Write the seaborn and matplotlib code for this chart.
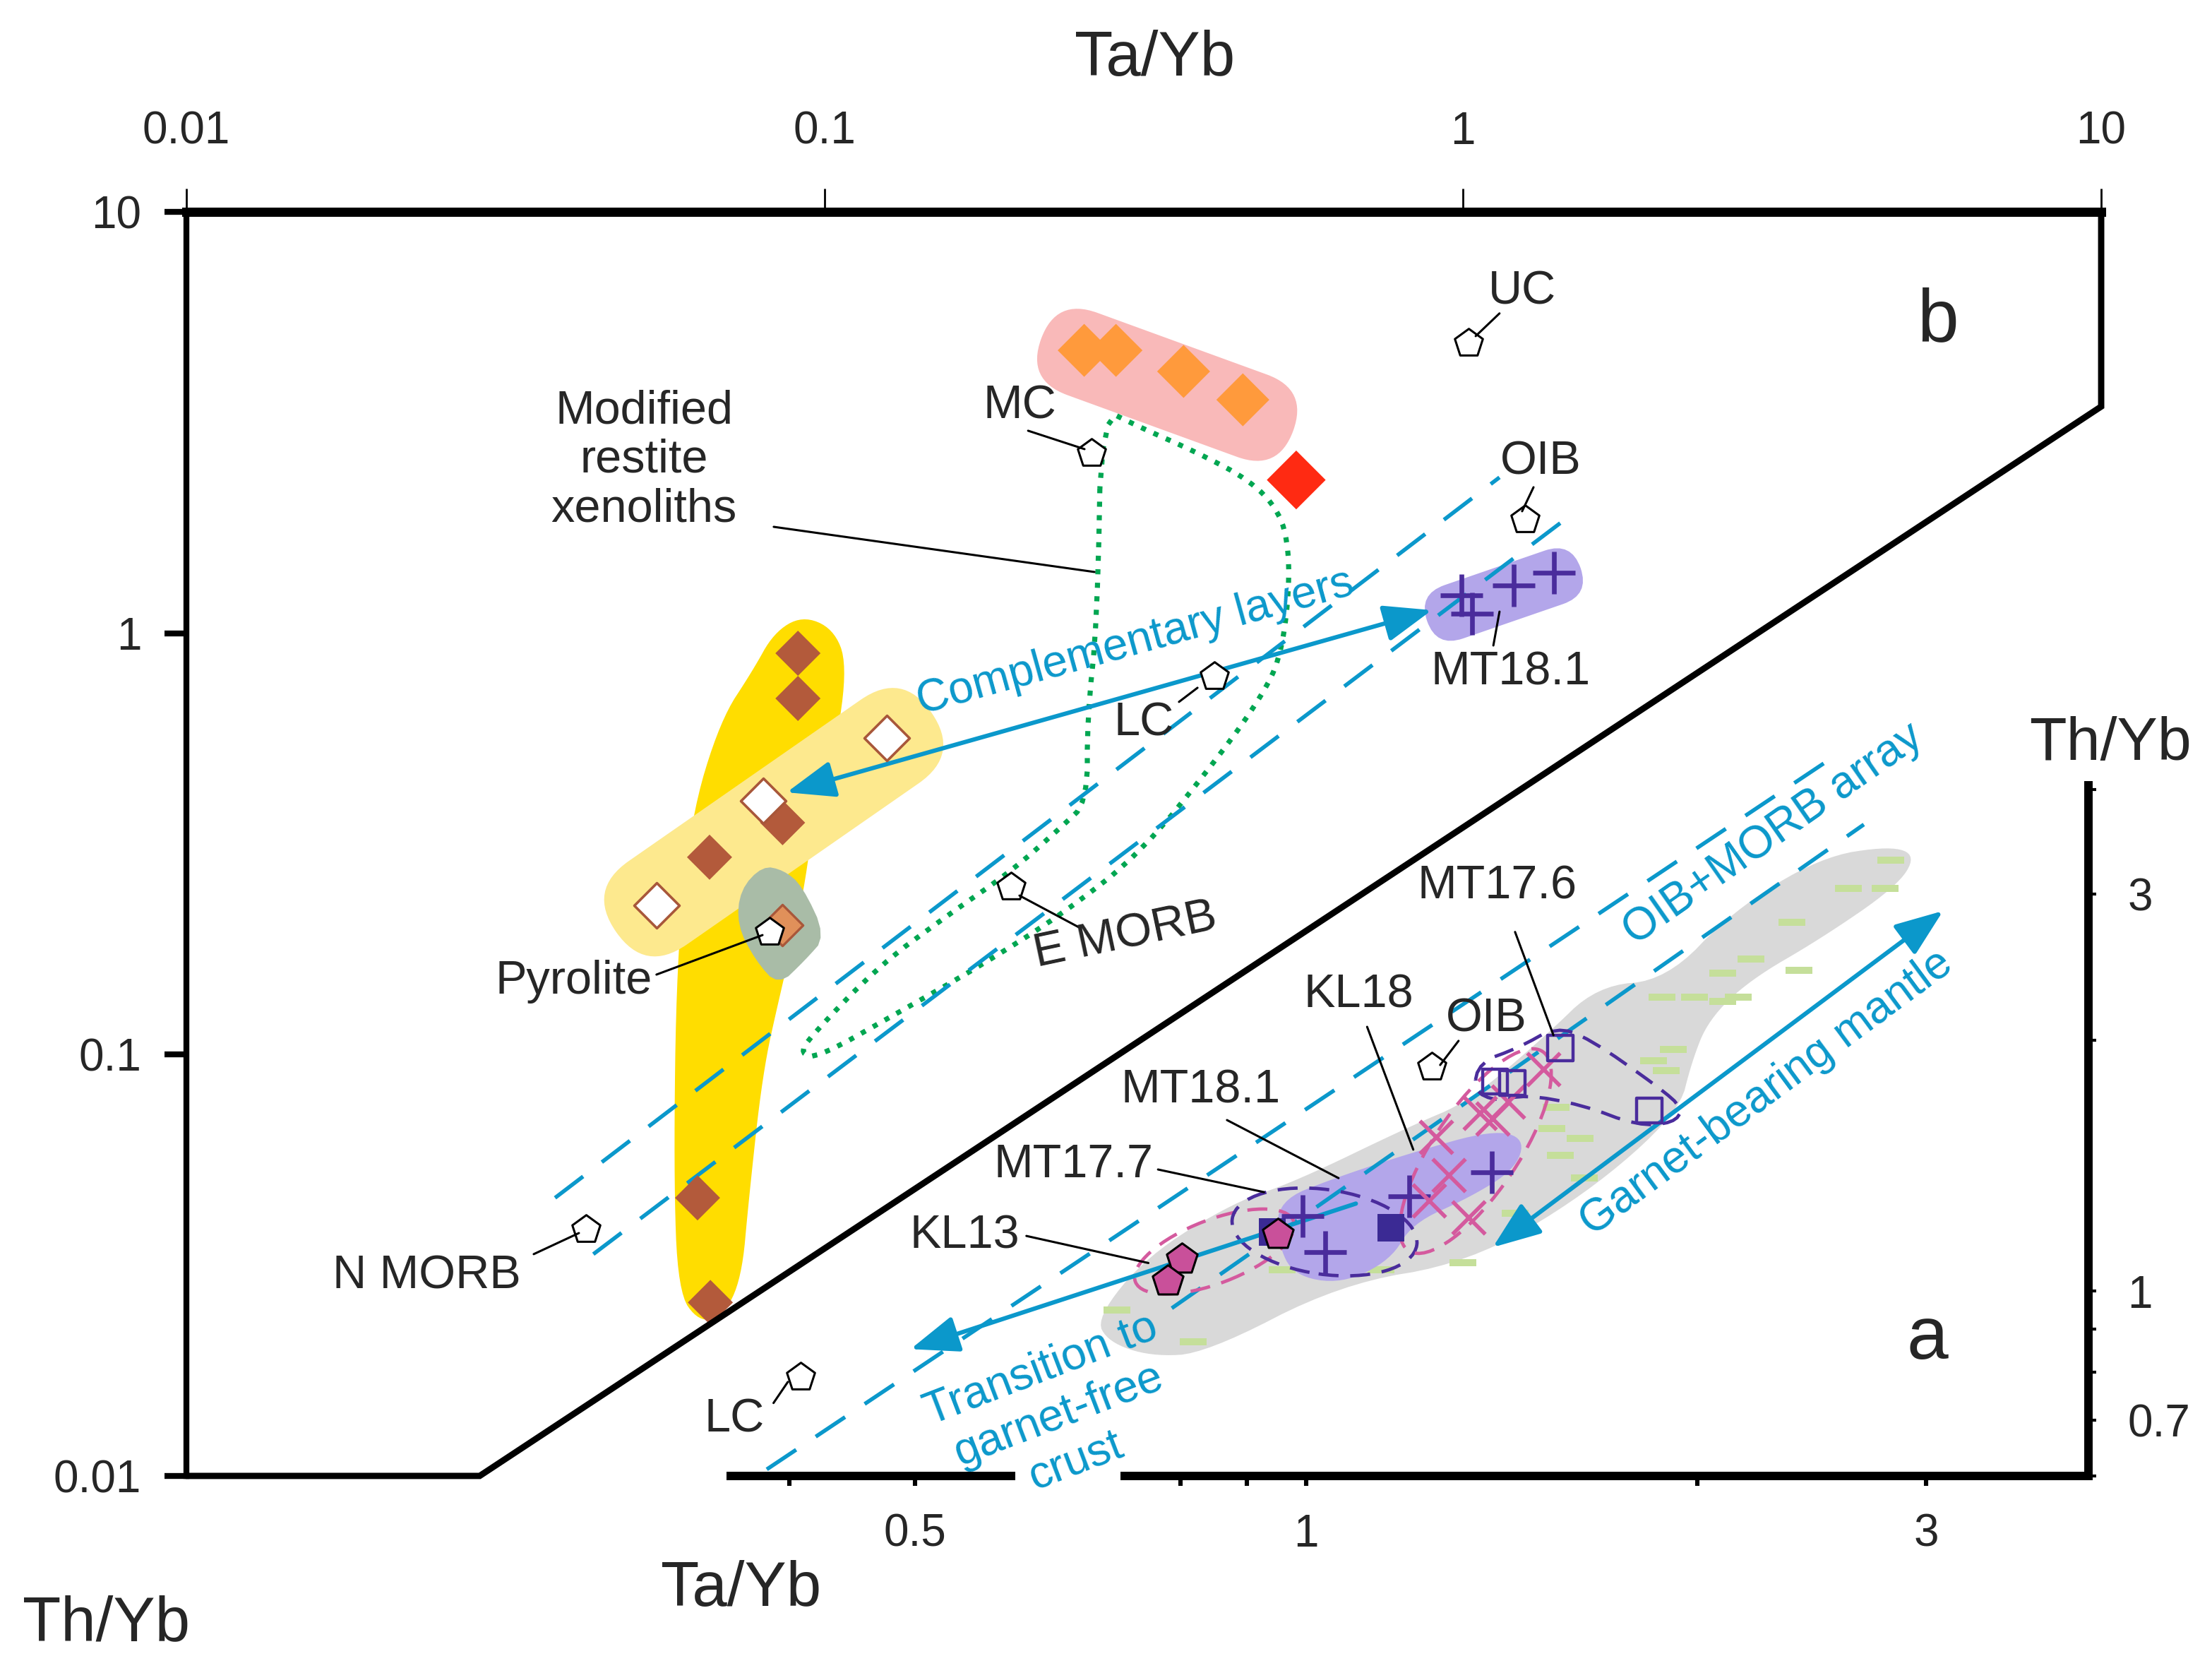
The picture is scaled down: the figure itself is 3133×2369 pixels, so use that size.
import numpy as np
import matplotlib
matplotlib.use('Agg')
import matplotlib.pyplot as plt
import seaborn as sns
from matplotlib.patches import FancyBboxPatch, Ellipse
from matplotlib.transforms import Affine2D, ScaledTranslation
from matplotlib.ticker import FixedLocator, FixedFormatter, NullLocator

sns.set_theme(style='white')
plt.rcParams['font.family'] = ['Liberation Sans', 'DejaVu Sans']

BLUE = '#0b98cb'
PURPLE = '#4a2c9c'
MAGENTA = '#d45a9e'

# ---------------- panel b data (Ta/Yb, Th/Yb) ----------------
ref_names = ['UC', 'MC', 'OIB', 'LC', 'E MORB', 'Pyrolite', 'N MORB']
ref_ta = [1.02, 0.262, 1.25, 0.408, 0.196, 0.082, 0.0423]
ref_th = [4.87, 2.67, 1.86, 0.789, 0.250, 0.195, 0.0385]

mc_ta = [0.255, 0.286, 0.365, 0.452]          # orange diamonds
mc_th = [4.69, 4.69, 4.18, 3.58]
red_ta = [0.548]
red_th = [2.31]
brown_ta = [0.0908, 0.0908, 0.0859, 0.066, 0.0632, 0.0662]
brown_th = [0.896, 0.700, 0.355, 0.294, 0.0457, 0.0258]
white_ta = [0.125, 0.0802, 0.0545]
white_th = [0.565, 0.40, 0.226]
pyro_ta = [0.0859]
pyro_th = [0.203]

# MT18.1 crosses (shown in both panels)
mt181_ta = [0.994, 1.034, 1.20, 1.39]
mt181_th = [1.23, 1.114, 1.30, 1.39]

# yellow band outline
band_ta = [0.0922, 0.1031, 0.1085, 0.1041, 0.0970, 0.0931, 0.0850, 0.0799, 0.0760, 0.0741,
           0.0693, 0.0635, 0.0589, 0.0580, 0.0586, 0.0616, 0.0686, 0.0771, 0.0832]
band_th = [1.100, 1.026, 0.846, 0.532, 0.422, 0.246, 0.1378, 0.0902, 0.0450, 0.0294,
           0.0239, 0.0232, 0.0273, 0.0525, 0.1672, 0.362, 0.621, 0.814, 1.002]
# grey-green field round pyrolite
kite_ta = [0.0799, 0.0862, 0.0922, 0.1005, 0.0931, 0.0846, 0.0779, 0.0729, 0.0737]
kite_th = [0.2805, 0.274, 0.2518, 0.1906, 0.1672, 0.1455, 0.1672, 0.2028, 0.246]
# modified restite xenoliths (green dotted)
restite_ta = [0.2714, 0.2673, 0.2579, 0.2579, 0.2342, 0.1959, 0.1558, 0.1214, 0.0945, 0.0917,
              0.0975, 0.1303, 0.175, 0.2342, 0.3131, 0.4206, 0.4851, 0.5158, 0.5318, 0.5345,
              0.5158, 0.4634, 0.3819, 0.3099]
restite_th = [3.420, 1.066, 0.631, 0.397, 0.3454, 0.272, 0.214, 0.1621, 0.1094, 0.1005,
              0.0982, 0.1257, 0.1621, 0.214, 0.3006, 0.524, 0.714, 0.866, 1.152, 1.568,
              1.947, 2.307, 2.692, 3.094]
# MORB-OIB array bounds in panel b
arr_b_up_ta = [0.0378, 1.141]
arr_b_up_th = [0.0457, 2.343]
arr_b_lo_ta = [0.0434, 1.443]
arr_b_lo_th = [0.0336, 1.858]
comp_ta = [0.0872, 0.894]
comp_th = [0.419, 1.134]
# panel b frame
frame_ta = [0.01, 0.0288, 10, 10]
frame_th = [0.01, 0.01, 3.45, 10]

b_labels = ['UC', 'MC', 'OIB', 'LC', 'E MORB', 'Pyrolite', 'N MORB', 'Modified\nrestite\nxenoliths', 'MT18.1']
b_lab_ta = [1.238, 0.2019, 1.323, 0.316, 0.296, 0.0404, 0.0238, 0.0521, 1.189]
b_lab_th = [6.44, 3.446, 2.55, 0.611, 0.1907, 0.149, 0.0297, 2.57, 0.807]
b_lab_rot = [0, 0, 0, 0, 12, 0, 0, 0, 0]
b_lead_ta = [(1.047, 1.141), (0.2083, 0.2553), (1.238, 1.290), (0.3838, 0.359), (0.2019, 0.2512),
             (0.0545, 0.0799), (0.035, 0.0412), (0.0832, 0.2647), (1.141, 1.116)]
b_lead_th = [(5.07, 5.74), (3.023, 2.734), (1.947, 2.22), (0.742, 0.687), (0.2384, 0.1998),
             (0.1548, 0.1921), (0.0336, 0.0377), (1.788, 1.397), (1.125, 0.935)]

# ---------------- panel a data ----------------
kl13_ta = [0.802, 0.782, 0.951]
kl13_th = [1.092, 1.028, 1.169]
mt177_ta = [0.942, 1.162]
mt177_th = [1.178, 1.192]
kl18_ta = [1.522, 1.430, 1.392, 1.360, 1.259, 1.288, 1.243, 1.334]
kl18_th = [1.848, 1.689, 1.611, 1.636, 1.531, 1.378, 1.284, 1.225]
mt176_ta = [1.569, 1.398, 1.441, 1.837]
mt176_th = [1.959, 1.784, 1.777, 1.649]
other_ta = [2.818, 2.615, 2.791, 2.365, 2.200, 2.093, 2.395, 1.879, 1.990, 2.093, 2.150, 1.917,
            1.851, 1.893, 1.557, 1.546, 1.625, 1.569, 1.637, 1.360, 1.320, 1.448, 1.320, 1.142,
            0.958, 0.715, 0.819]
other_th = [3.295, 3.047, 3.047, 2.774, 2.506, 2.410, 2.429, 2.255, 2.255, 2.229, 2.255, 1.951,
            1.891, 1.840, 1.663, 1.568, 1.525, 1.455, 1.367, 1.433, 1.335, 1.240, 1.081, 1.060,
            1.060, 0.950, 0.869]
grey_ta = [0.689, 0.754, 0.880, 0.978, 1.204, 1.334, 1.526, 1.675, 1.893, 2.130, 2.487, 2.818,
           2.949, 2.847, 2.487, 2.194, 2.040, 1.980, 1.936, 1.641, 1.334, 1.062, 0.837, 0.759, 0.704]
grey_th = [0.928, 1.103, 1.279, 1.351, 1.580, 1.689, 2.021, 2.327, 2.363, 2.862, 3.321, 3.426,
           3.334, 3.059, 2.647, 2.363, 2.118, 1.884, 1.637, 1.305, 1.081, 1.020, 0.842, 0.835, 0.869]
lav_ta = [0.951, 1.051, 1.206, 1.392, 1.474, 1.448, 1.334, 1.206, 1.162, 1.065, 0.978, 0.951]
lav_th = [1.284, 1.367, 1.467, 1.562, 1.525, 1.400, 1.294, 1.206, 1.090, 1.020, 1.044, 1.142]
mt176f_ta = [1.344, 1.360, 1.456, 1.557, 1.650, 1.870, 1.951, 1.917, 1.800, 1.629, 1.474, 1.402]
mt176f_th = [1.742, 1.884, 1.959, 2.077, 2.013, 1.756, 1.656, 1.592, 1.580, 1.675, 1.722, 1.689]
arr_a1_ta = [0.3844, 2.537]
arr_a1_th = [0.611, 4.365]
arr_a2_ta = [0.788, 2.687]
arr_a2_th = [0.954, 3.634]
trans_ta = [1.092, 0.496]
trans_th = [1.274, 0.852]
garnet_ta = [1.392, 3.092]
garnet_th = [1.129, 2.862]

a_labels = ['MT17.6', 'KL18', 'OIB', 'MT18.1', 'MT17.7', 'KL13', 'LC']
a_lab_ta = [1.402, 1.097, 1.377, 0.829, 0.662, 0.546, 0.363]
a_lab_th = [3.059, 2.264, 2.118, 1.742, 1.416, 1.165, 0.701]
a_lead_ta = [(1.448, 1.55), (1.114, 1.209), (1.310, 1.268), (0.869, 1.059), (0.769, 0.928),
             (0.609, 0.756), (0.389, 0.399)]
a_lead_th = [(2.70, 2.029), (2.077, 1.479), (1.998, 1.869), (1.605, 1.367), (1.400, 1.315),
             (1.165, 1.081), (0.734, 0.778)]

fig = plt.figure(figsize=(15.665, 11.845), dpi=200)
ax_b = fig.add_axes([0.0843, 0.1178, 0.8656, 0.7556])
ax_a = fig.add_axes([0.3285, 0.1178, 0.6156, 0.4128])
for ax in (ax_b, ax_a):
    ax.set_xscale('log')
    ax.set_yscale('log')
    ax.grid(False)
ax_a.patch.set_visible(False)


def smooth(xs, ys, n=3):
    # chaikin corner cutting in log space
    p = np.log10(np.column_stack([xs, ys]))
    for _ in range(n):
        nxt = np.roll(p, -1, axis=0)
        p = np.stack([0.75 * p + 0.25 * nxt, 0.25 * p + 0.75 * nxt], axis=1).reshape(-1, 2)
    return 10 ** p


def blob(ax, x, y, length, thick, angle, color, z):
    b = FancyBboxPatch((-length / 2, -thick / 2), length, thick,
                       boxstyle=f'round,pad=0,rounding_size={thick / 2}',
                       fc=color, ec='none', zorder=z)
    b.set_transform(Affine2D().rotate_deg(angle) + fig.dpi_scale_trans
                    + ScaledTranslation(x, y, ax.transData))
    ax.add_patch(b)


def ring(ax, x, y, w, h, angle, color, z):
    e = Ellipse((0, 0), w, h, angle=angle, fill=False, ec=color, lw=1.7,
                ls=(0, (6, 3.5)), zorder=z)
    e.set_transform(fig.dpi_scale_trans + ScaledTranslation(x, y, ax.transData))
    ax.add_patch(e)


def pts(ax, x, y, marker, s, z, **kw):
    sns.scatterplot(x=x, y=y, ax=ax, marker=marker, s=s, zorder=z, legend=False, **kw)


# ---------------- panel b ----------------
sm = smooth(band_ta, band_th)
ax_b.fill(sm[:, 0], sm[:, 1], color='#ffdd00', lw=0, zorder=1)
blob(ax_b, 0.0832, 0.356, 2.72, 0.72, 34.8, '#fde98e', 1.2)
sm = smooth(kite_ta, kite_th, 2)
ax_b.fill(sm[:, 0], sm[:, 1], color='#a9bca7', lw=0, zorder=1.4)
blob(ax_b, 0.344, 3.885, 1.90, 0.62, -20, '#f9b9b9', 1)
blob(ax_b, 1.159, 1.235, 1.15, 0.40, 19, '#b3a6ea', 1)

sm = smooth(restite_ta, restite_th, 2)
ax_b.plot(np.append(sm[:, 0], sm[0, 0]), np.append(sm[:, 1], sm[0, 1]),
          color='#00a651', lw=2.6, ls=':', zorder=2)
for xs, ys in [(arr_b_up_ta, arr_b_up_th), (arr_b_lo_ta, arr_b_lo_th)]:
    ax_b.plot(xs, ys, color=BLUE, lw=2, ls=(0, (9, 6)), zorder=2)

ax_b.annotate('', xy=(comp_ta[1], comp_th[1]), xytext=(comp_ta[0], comp_th[0]),
              arrowprops=dict(arrowstyle='<|-|>,head_length=1.05,head_width=0.4',
                              color=BLUE, lw=2.2, shrinkA=0, shrinkB=0, mutation_scale=20),
              zorder=3)

pts(ax_b, mc_ta, mc_th, 'D', 365, 4, color='#ff9a3c', edgecolor='none')
pts(ax_b, red_ta, red_th, 'D', 450, 4, color='#ff2a12', edgecolor='none')
pts(ax_b, brown_ta, brown_th, 'D', 265, 4, color='#b35a3b', edgecolor='none')
pts(ax_b, white_ta, white_th, 'D', 265, 4.2, color='white', edgecolor='#a8573a', linewidth=1.3)
pts(ax_b, pyro_ta, pyro_th, 'D', 220, 4.2, color='#e0905a', edgecolor='#a8573a', linewidth=1.2)
pts(ax_b, mt181_ta, mt181_th, '+', 460, 4, color=PURPLE, linewidth=2.4)
pts(ax_b, ref_ta, ref_th, 'p', 225, 5, color='white', edgecolor='black', linewidth=1.1)

for lab, tx, ty, rot, lx, ly in zip(b_labels, b_lab_ta, b_lab_th, b_lab_rot, b_lead_ta, b_lead_th):
    ax_b.plot(lx, ly, color='black', lw=1.1, zorder=6)
    ax_b.text(tx, ty, lab, fontsize=24, ha='center', va='center', rotation=rot,
              linespacing=1.15, zorder=6)
ax_b.text(0.3067, 0.9495, 'Complementary layers', color=BLUE, fontsize=23, rotation=15.5,
          ha='center', va='center', rotation_mode='anchor', zorder=6)
ax_b.text(5.54, 5.48, 'b', fontsize=38, ha='center', va='center')

ax_b.plot(frame_ta, frame_th, color='black', lw=3.2, solid_joinstyle='miter', clip_on=False, zorder=7)
ax_b.set_xlim(0.01, 10)
ax_b.set_ylim(0.01, 10)
for side in ['right', 'bottom']:
    ax_b.spines[side].set_visible(False)
ax_b.spines['top'].set_linewidth(4.7)
ax_b.spines['left'].set_linewidth(3)
for side in ['top', 'left']:
    ax_b.spines[side].set_color('black')
ax_b.xaxis.set_major_locator(FixedLocator([0.01, 0.1, 1, 10]))
ax_b.xaxis.set_major_formatter(FixedFormatter(['0.01', '0.1', '1', '10']))
ax_b.yaxis.set_major_locator(FixedLocator([0.01, 0.1, 1, 10]))
ax_b.yaxis.set_major_formatter(FixedFormatter(['0.01', '0.1', '1', '10']))
ax_b.xaxis.set_minor_locator(NullLocator())
ax_b.yaxis.set_minor_locator(NullLocator())
ax_b.tick_params(axis='x', top=True, labeltop=True, bottom=False, labelbottom=False,
                 direction='out', length=12, width=1, pad=18, labelsize=23, color='black')
ax_b.tick_params(axis='y', left=True, labelleft=True, right=False, direction='out',
                 length=11, width=3, pad=12, labelsize=23, color='black')

# ---------------- panel a ----------------
sm = smooth(grey_ta, grey_th)
ax_a.fill(sm[:, 0], sm[:, 1], color='#d9d9d9', lw=0, zorder=1)
pts(ax_a, other_ta, other_th, '_', 180, 1.5, color='#c5df9a', linewidth=3.6)
sm = smooth(lav_ta, lav_th)
ax_a.fill(sm[:, 0], sm[:, 1], color='#b3a6ea', lw=0, zorder=1.8)

for xs, ys in [(arr_a1_ta, arr_a1_th), (arr_a2_ta, arr_a2_th)]:
    ax_a.plot(xs, ys, color=BLUE, lw=2, ls=(0, (9, 6)), zorder=2, clip_on=False)

ring(ax_a, 0.850, 1.116, 1.2, 0.45, 21, MAGENTA, 2.5)
ring(ax_a, 1.033, 1.178, 1.32, 0.60, -8, PURPLE, 2.5)
ring(ax_a, 1.350, 1.473, 1.70, 0.60, 56, MAGENTA, 2.5)
sm = smooth(mt176f_ta, mt176f_th, 2)
ax_a.plot(np.append(sm[:, 0], sm[0, 0]), np.append(sm[:, 1], sm[0, 1]),
          color=PURPLE, lw=1.7, ls=(0, (6, 3.5)), zorder=2.5)

ax_a.annotate('', xy=(trans_ta[1], trans_th[1]), xytext=(trans_ta[0], trans_th[0]),
              arrowprops=dict(arrowstyle='-|>,head_length=1.05,head_width=0.4',
                              color=BLUE, lw=2.2, shrinkA=0, shrinkB=0, mutation_scale=20),
              zorder=3)
ax_a.annotate('', xy=(garnet_ta[1], garnet_th[1]), xytext=(garnet_ta[0], garnet_th[0]),
              arrowprops=dict(arrowstyle='<|-|>,head_length=1.05,head_width=0.4',
                              color=BLUE, lw=2.2, shrinkA=0, shrinkB=0, mutation_scale=20),
              zorder=3)

pts(ax_a, mt181_ta, mt181_th, '+', 480, 4, color=PURPLE, linewidth=2.4)
pts(ax_a, mt177_ta, mt177_th, 's', 190, 4, color='#3b2a94', edgecolor='none')
pts(ax_a, kl18_ta, kl18_th, 'x', 280, 4, color=MAGENTA, linewidth=2)
pts(ax_a, mt176_ta, mt176_th, 's', 160, 4, facecolor='none', edgecolor=PURPLE, linewidth=1.6)
pts(ax_a, kl13_ta, kl13_th, 'p', 270, 4.5, color='#c9509a', edgecolor='black', linewidth=1.1)
pts(ax_a, [ref_ta[2], ref_ta[3]], [ref_th[2], ref_th[3]], 'p', 225, 5,
    color='white', edgecolor='black', linewidth=1.1)

for lab, tx, ty, lx, ly in zip(a_labels, a_lab_ta, a_lab_th, a_lead_ta, a_lead_th):
    ax_a.plot(lx, ly, color='black', lw=1.1, zorder=6, clip_on=False)
    ax_a.text(tx, ty, lab, fontsize=24, ha='center', va='center', zorder=6)
ax_a.text(2.288, 3.535, 'OIB+MORB array', color=BLUE, fontsize=23, rotation=35,
          ha='center', va='center', rotation_mode='anchor', zorder=6)
ax_a.text(2.262, 1.729, 'Garnet-bearing mantle', color=BLUE, fontsize=23, rotation=36.5,
          ha='center', va='center', rotation_mode='anchor', zorder=6)
ax_a.text(0.6445, 0.710, 'Transition to\ngarnet-free\ncrust', color=BLUE, fontsize=23,
          rotation=21, ha='center', va='center', rotation_mode='anchor', zorder=6,
          linespacing=1.2)
ax_a.text(3.008, 0.876, 'a', fontsize=38, ha='center', va='center')

ax_a.set_xlim(0.358, 4.0)
ax_a.set_ylim(0.6, 4.05)
for side in ['left', 'top', 'bottom']:
    ax_a.spines[side].set_visible(False)
ax_a.spines['right'].set_linewidth(4.3)
ax_a.spines['right'].set_color('black')
for x0, x1 in [(0, 0.212), (0.289, 1.0)]:
    ax_a.plot([x0, x1], [0, 0], transform=ax_a.transAxes, color='black', lw=4.3,
              solid_capstyle='butt', clip_on=False, zorder=7)
ax_a.xaxis.set_major_locator(FixedLocator([0.4, 0.5, 0.8, 0.9, 1, 2, 3]))
ax_a.xaxis.set_major_formatter(FixedFormatter(['', '0.5', '', '', '1', '', '3']))
ax_a.yaxis.set_major_locator(FixedLocator([0.6, 0.7, 0.8, 0.9, 1, 2, 3, 4]))
ax_a.yaxis.set_major_formatter(FixedFormatter(['', '0.7', '', '', '1', '', '3', '']))
ax_a.xaxis.set_minor_locator(NullLocator())
ax_a.yaxis.set_minor_locator(NullLocator())
ax_a.tick_params(axis='x', bottom=True, labelbottom=True, top=False, direction='out',
                 length=5, width=2.2, pad=14, labelsize=23, color='black')
ax_a.tick_params(axis='y', right=True, labelright=True, left=False, labelleft=False,
                 direction='out', length=4, width=1.5, pad=16, labelsize=23, color='black')

fig.text(0.522, 0.9645, 'Ta/Yb', fontsize=32, ha='center', va='center')
fig.text(0.954, 0.555, 'Th/Yb', fontsize=31, ha='center', va='center')
fig.text(0.335, 0.050, 'Ta/Yb', fontsize=32, ha='center', va='center')
fig.text(0.048, 0.029, 'Th/Yb', fontsize=32, ha='center', va='center')

fig.savefig('out.png', dpi=200, facecolor='white')
